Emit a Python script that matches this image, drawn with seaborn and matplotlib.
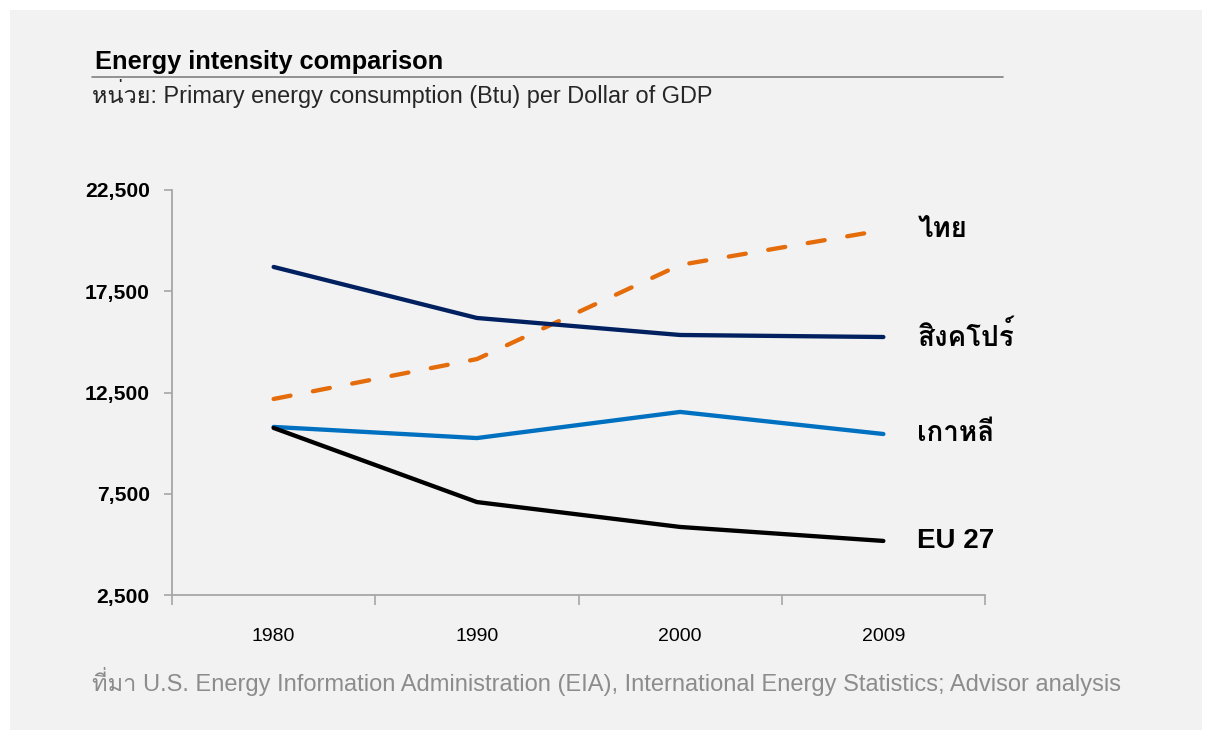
import matplotlib
matplotlib.use("Agg")
import matplotlib.pyplot as plt
from matplotlib import font_manager
from matplotlib.patches import Rectangle
from matplotlib.lines import Line2D
from matplotlib.ticker import FixedLocator, FuncFormatter
import seaborn as sns
import pandas as pd

# ---------------- data ----------------
years = ["1980", "1990", "2000", "2009"]
thailand = [12180, 14150, 18800, 20520]
singapore = [18700, 16180, 15340, 15240]
korea = [10800, 10250, 11540, 10450]
eu27 = [10750, 7090, 5860, 5170]
series_names = ["ไทย", "สิงคโปร์", "เกาหลี", "EU 27"]
y_ticks = [2500, 7500, 12500, 17500, 22500]

title = "Energy intensity comparison"
subtitle = "หน่วย: Primary energy consumption (Btu) per Dollar of GDP"
source = "ที่มา U.S. Energy Information Administration (EIA), International Energy Statistics; Advisor analysis"

# ---------------- fonts ----------------
thai_sample = "ไทยสิงคโปร์เกาหลีหน่วยที่มา"
thai_family = None
try:
    from fontTools.ttLib import TTFont
    seen = set()
    for fe in font_manager.fontManager.ttflist:
        if fe.name in seen:
            continue
        seen.add(fe.name)
        try:
            kw = {"fontNumber": 0} if fe.fname.lower().endswith((".ttc", ".otc")) else {}
            cmap = TTFont(fe.fname, lazy=True, **kw).getBestCmap()
            if all(ord(c) in cmap for c in thai_sample):
                thai_family = fe.name
                break
        except Exception:
            pass
except Exception:
    pass

sns.set_theme(style="white")
fam = ["Liberation Sans"] + ([thai_family] if thai_family else []) + ["DejaVu Sans"]
plt.rcParams["font.family"] = fam

# ---------------- frame ----------------
W, H = 1212, 738
fig = plt.figure(figsize=(W / 100, H / 100), dpi=100)
fig.patch.set_facecolor("white")
fig.patches.append(Rectangle((10 / W, 1 - 730 / H), 1192 / W, 720 / H,
                             transform=fig.transFigure, facecolor="#f2f2f2",
                             edgecolor="none", zorder=-10))

ax_l, ax_r, ax_t, ax_b = 172, 985, 190, 595
ax = fig.add_axes([ax_l / W, 1 - ax_b / H, (ax_r - ax_l) / W, (ax_b - ax_t) / H])
ax.set_facecolor("none")

df = pd.DataFrame({
    "year": years * 4,
    "value": thailand + singapore + korea + eu27,
    "country": sum([[n] * len(years) for n in series_names], []),
})
palette = {"ไทย": "#E46C0A", "สิงคโปร์": "#002060", "เกาหลี": "#0070C0", "EU 27": "#000000"}
dashes = {"ไทย": (4, 5.3), "สิงคโปร์": "", "เกาหลี": "", "EU 27": ""}

sns.lineplot(data=df, x="year", y="value", hue="country", style="country",
             palette=palette, dashes=dashes, linewidth=3.1, ax=ax, legend=False,
             sort=False)
for ln in ax.get_lines():
    ln.set_dash_capstyle("round")
    ln.set_solid_capstyle("round")
    ln.set_solid_joinstyle("round")

ax.set_xlim(-0.5, len(years) - 0.5)
ax.set_ylim(y_ticks[0], y_ticks[-1])
ax.set_xlabel("")
ax.set_ylabel("")

# axes styling
for s in ["top", "right"]:
    ax.spines[s].set_visible(False)
for s in ["left", "bottom"]:
    ax.spines[s].set_color("#a6a6a6")
    ax.spines[s].set_linewidth(1.3)

ax.yaxis.set_major_locator(FixedLocator(y_ticks))
ax.yaxis.set_major_formatter(FuncFormatter(lambda v, p: f"{int(v):,}"))
ax.tick_params(axis="y", which="major", left=True, length=6, width=1.2,
               color="#a6a6a6", pad=10, labelsize=15.2, labelcolor="black")
for lab in ax.get_yticklabels():
    lab.set_fontweight("bold")

ax.set_xticks(range(len(years)))
ax.set_xticklabels(years)
ax.tick_params(axis="x", which="major", bottom=False, length=0, pad=24,
               labelsize=14, labelcolor="black")
ax.xaxis.set_minor_locator(FixedLocator([i - 0.5 for i in range(len(years) + 1)]))
ax.tick_params(axis="x", which="minor", bottom=True, length=7, width=1.2,
               color="#a6a6a6", direction="out")
ax.tick_params(axis="y", which="minor", left=False)

# right-hand labels
for name, vals in zip(series_names, [thailand, singapore, korea, eu27]):
    ax.annotate(name, xy=(len(years) - 1, vals[-1]), xytext=(24.5, 0),
                textcoords="offset points", va="center", ha="left",
                fontsize=20, fontweight="bold", color="black",
                annotation_clip=False)

# titles
fig.text(95 / W, 1 - 62 / H, title, fontsize=18.3, fontweight="bold",
         color="black", va="center", ha="left")
fig.add_artist(Line2D([92 / W, 1003 / W], [1 - 77 / H, 1 - 77 / H],
                      transform=fig.transFigure, color="#808080", linewidth=1.2))
fig.text(92 / W, 1 - 94 / H, subtitle, fontsize=16.9, color="#262626",
         va="center", ha="left")
fig.text(92 / W, 1 - 681 / H, source, fontsize=17, color="#8c8c8c",
         va="center", ha="left")

fig.savefig("out.png", dpi=100, facecolor=fig.get_facecolor())
